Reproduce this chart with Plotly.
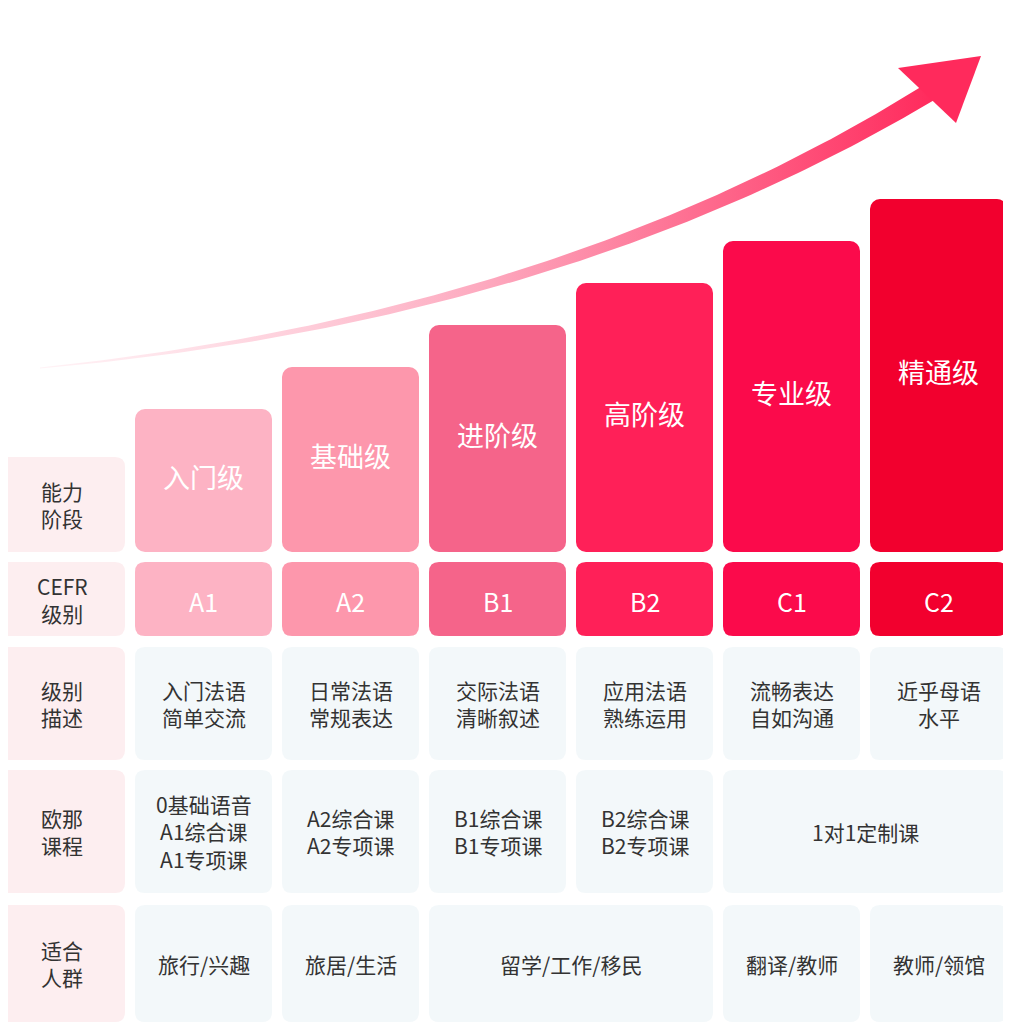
import numpy as np
import plotly.graph_objects as go

stages = ["入门级", "基础级", "进阶级", "高阶级", "专业级", "精通级"]
cefr = ["A1", "A2", "B1", "B2", "C1", "C2"]
bar_heights = [143, 185, 227, 269, 311, 353]
bar_colors = ["#FDB3C4", "#FD97AC", "#F5648A", "#FF2058", "#FB0A4B", "#F2002E"]
row_labels = ["能力<br>阶段", "CEFR<br>级别", "级别<br>描述", "欧那<br>课程", "适合<br>人群"]
descriptions = ["入门法语<br>简单交流", "日常法语<br>常规表达", "交际法语<br>清晰叙述",
                "应用法语<br>熟练运用", "流畅表达<br>自如沟通", "近乎母语<br>水平"]
courses = ["0基础语音<br>A1综合课<br>A1专项课", "A2综合课<br>A2专项课", "B1综合课<br>B1专项课",
           "B2综合课<br>B2专项课", "1对1定制课"]
course_span = [(0, 0), (1, 1), (2, 2), (3, 3), (4, 5)]
audience = ["旅行/兴趣", "旅居/生活", "留学/工作/移民", "翻译/教师", "教师/领馆"]
audience_span = [(0, 0), (1, 1), (2, 3), (4, 4), (5, 5)]

H = 1024
OFF = 8
FONT = "Noto Sans CJK SC"
col_left = [135 + 147 * i for i in range(6)]
col_w = 137
Y = lambda p: H - p

def rr(x0, y0, x1, y1, r=10):
    a, b, c, d = x0, Y(y1), x1, Y(y0)
    return (f"M{a+r},{b} L{c-r},{b} Q{c},{b} {c},{b+r} L{c},{d-r} Q{c},{d} {c-r},{d} "
            f"L{a+r},{d} Q{a},{d} {a},{d-r} L{a},{b+r} Q{a},{b} {a+r},{b} Z")

fig = go.Figure()
shapes, ann = [], []

P0, P1, P2 = np.array([40, 368.0]), np.array([560, 318.0]), np.array([930, 92.0])
t = np.linspace(0, 1, 120)
pts = ((1-t)**2)[:, None]*P0 + (2*(1-t)*t)[:, None]*P1 + (t**2)[:, None]*P2
d = 2*(1-t)[:, None]*(P1-P0) + 2*t[:, None]*(P2-P1)
n = np.stack([-d[:, 1], d[:, 0]], 1); n /= np.linalg.norm(n, axis=1)[:, None]
w = 0.5 + 8.5*t
up = pts + n*w[:, None]; lo = pts - n*w[:, None]
poly = np.vstack([up, lo[::-1], up[:1]])
fig.add_trace(go.Scatter(x=poly[:, 0], y=H-poly[:, 1], mode="lines", line=dict(width=0),
                         fill="toself", fillgradient=dict(type="horizontal",
                         colorscale=[[0, "rgba(255,235,240,0.6)"], [0.5, "#FDA8BE"], [1, "#FF2A5C"]]),
                         hoverinfo="skip", showlegend=False))
head = np.array([[898, 68], [981, 56], [956, 123], [898, 68]])
fig.add_trace(go.Scatter(x=head[:, 0], y=H-head[:, 1], mode="lines", line=dict(width=0),
                         fill="toself", fillcolor="#FF2A5C", hoverinfo="skip", showlegend=False))

centers = [c + col_w/2 for c in col_left]
fig.add_trace(go.Bar(x=centers, y=bar_heights, base=Y(552), width=col_w,
                     marker=dict(color=bar_colors, line=dict(width=0)), hoverinfo="skip",
                     showlegend=False))
for i, s in enumerate(stages):
    ann.append(dict(x=centers[i], y=Y(552) + bar_heights[i]/2 + 4, text=s, showarrow=False,
                    font=dict(size=27, color="white", family=FONT)))

rows = [(457, 552), (562, 636), (647, 760), (770, 893), (905, 1022)]
for (y0, y1), lab in zip(rows, row_labels):
    shapes.append(dict(type="path", path=rr(0, y0, 125, y1), fillcolor="#FDEEF0", line=dict(width=0), layer="below"))
    ann.append(dict(x=62, y=Y((y0+y1)/2), text=lab, showarrow=False,
                    font=dict(size=21, color="#333", family=FONT)))

for i, c in enumerate(cefr):
    shapes.append(dict(type="path", path=rr(col_left[i], 562, col_left[i]+col_w, 636), fillcolor=bar_colors[i], line=dict(width=0), layer="below"))
    ann.append(dict(x=centers[i], y=Y(601), text=c, showarrow=False, font=dict(size=25, color="white", family=FONT)))

LIGHT = "#F3F8FA"
def cell(a, b, y0, y1, txt):
    x0, x1 = col_left[a], col_left[b] + col_w
    shapes.append(dict(type="path", path=rr(x0, y0, x1, y1), fillcolor=LIGHT, line=dict(width=0), layer="below"))
    ann.append(dict(x=(x0+x1)/2, y=Y((y0+y1)/2), text=txt, showarrow=False,
                    font=dict(size=21, color="#333", family=FONT)))

for i, t_ in enumerate(descriptions):
    cell(i, i, 647, 760, t_)
for (a, b), t_ in zip(course_span, courses):
    cell(a, b, 770, 893, t_)
for (a, b), t_ in zip(audience_span, audience):
    cell(a, b, 905, 1022, t_)

fig.update_layout(width=1011, height=1024, margin=dict(l=0, r=0, t=0, b=0),
                  paper_bgcolor="white", plot_bgcolor="white", barcornerradius=10,
                  shapes=shapes, annotations=ann,
                  xaxis=dict(range=[OFF, 1011 + OFF], visible=False, fixedrange=True),
                  yaxis=dict(range=[-OFF, 1024 - OFF], visible=False, fixedrange=True))
fig.write_html("out.html")
